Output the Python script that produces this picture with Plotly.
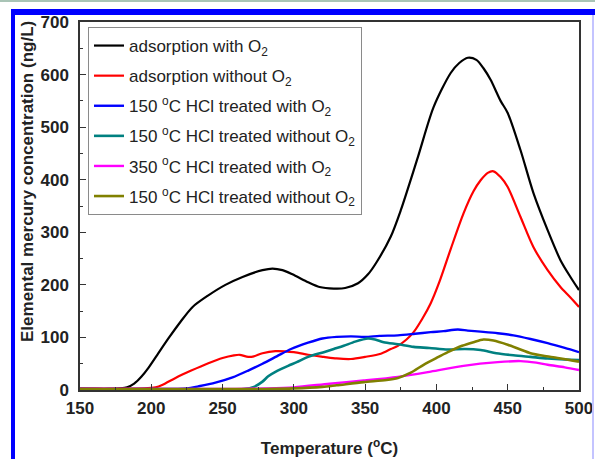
import plotly.graph_objects as go

# ---- data (Temperature in °C, concentration in ng/L) ----
black_T = [150, 160, 170, 178, 183, 188, 193, 198, 205, 212, 220, 229, 240, 252, 264, 278, 285, 292, 299, 310, 318, 328, 336, 345, 352, 358, 368, 375, 387, 398, 410, 416, 422, 428, 433, 438, 445, 450, 459, 468, 478, 487, 494, 500]
black_v = [2, 2, 2, 3, 5, 12, 25, 42, 70, 98, 128, 158, 180, 200, 215, 228, 231, 228, 220, 205, 196, 193, 194, 203, 220, 243, 292, 342, 443, 538, 603, 622, 632, 628, 612, 590, 550, 527, 456, 375, 304, 247, 215, 190]

red_T = [150, 195, 203, 208, 217, 228, 240, 250, 258, 262, 268, 272, 278, 287, 300, 310, 321, 330, 340, 350, 361, 368, 373, 379, 384, 390, 396, 402, 410, 419, 426, 431, 436, 440, 445, 450, 459, 468, 478, 487, 494, 500]
red_v = [3, 3, 5, 10, 23, 37, 51, 61, 66, 67, 63, 64, 70, 74, 72, 67, 63, 60, 59, 63, 69, 78, 84, 96, 110, 135, 165, 205, 268, 336, 378, 399, 413, 416, 405, 386, 329, 272, 228, 196, 176, 158]

blue_T = [150, 200, 225, 233, 245, 257, 268, 278, 288, 298, 310, 320, 330, 340, 350, 360, 373, 385, 396, 405, 415, 422, 431, 443, 454, 466, 478, 490, 500]
blue_v = [2, 2, 3, 7, 14, 24, 37, 50, 64, 78, 90, 98, 101, 102, 101, 103, 104, 107, 110, 112, 115, 113, 111, 108, 104, 97, 89, 80, 72]

teal_T = [150, 265, 272, 278, 282, 288, 296, 302, 310, 321, 328, 335, 343, 352, 357, 363, 373, 384, 395, 408, 420, 431, 442, 454, 466, 478, 490, 500]
teal_v = [2, 2, 6, 16, 26, 36, 46, 53, 63, 72, 78, 84, 92, 98, 96, 91, 87, 82, 80, 77, 78, 76, 70, 66, 63, 60, 58, 57]

mag_T = [150, 250, 280, 300, 325, 349, 373, 396, 419, 443, 459, 470, 478, 490, 500]
mag_v = [2, 2, 3, 5, 12, 18, 25, 35, 46, 53, 55, 52, 48, 43, 38]

olive_T = [150, 280, 300, 320, 330, 349, 365, 373, 382, 391, 400, 408, 418, 426, 433, 440, 450, 458, 466, 475, 485, 500]
olive_v = [2, 2, 3, 6, 9, 15, 19, 23, 33, 48, 61, 72, 84, 91, 96, 94, 86, 78, 70, 65, 61, 54]

series_names = [
    "adsorption with O<sub>2</sub>",
    "adsorption without O<sub>2</sub>",
    "150 <sup>o</sup>C HCl treated with O<sub>2</sub>",
    "150 <sup>o</sup>C HCl treated without O<sub>2</sub>",
    "350 <sup>o</sup>C HCl treated with O<sub>2</sub>",
    "150 <sup>o</sup>C HCl treated without O<sub>2</sub>",
]
series_colors = ["#000000", "#ff0000", "#0000ff", "#008080", "#ff00ff", "#808000"]
series_widths = [2.2, 2.2, 2.4, 2.6, 2.4, 2.6]
series_T = [black_T, red_T, blue_T, teal_T, mag_T, olive_T]
series_v = [black_v, red_v, blue_v, teal_v, mag_v, olive_v]

x_ticks = [150, 200, 250, 300, 350, 400, 450, 500]
y_ticks = [0, 100, 200, 300, 400, 500, 600, 700]

FONT = "Liberation Sans, Arial, sans-serif"

fig = go.Figure()
for i, (name, col, w, T, v) in enumerate(zip(series_names, series_colors, series_widths, series_T, series_v)):
    fig.add_trace(go.Scatter(
        x=T, y=v, mode="lines", name=name, legendgroup=f"g{i}",
        line=dict(color=col, width=w, shape="spline", smoothing=0.8),
    ))

# plot area in pixels: x 80..579, y 22..390
L, R, T_, B = 80, 16, 22, 69
W, H = 595, 459
pw, ph = W - L - R, H - T_ - B

def px(xp):
    return (xp - L) / pw

def py(yp):
    return (H - B - yp) / ph

shapes = [
    # outer page frame pieces
    dict(type="rect", xref="paper", yref="paper", x0=px(0), x1=px(W), y0=py(2), y1=py(0),
         fillcolor="#a9c4b6", line_width=0, layer="above"),
    dict(type="rect", xref="paper", yref="paper", x0=px(11), x1=px(W), y0=py(15), y1=py(9),
         fillcolor="#0000ff", line_width=0, layer="above"),
    dict(type="rect", xref="paper", yref="paper", x0=px(11), x1=px(15), y0=py(H + 10), y1=py(9),
         fillcolor="#0000ff", line_width=0, layer="above"),
    dict(type="rect", xref="paper", yref="paper", x0=px(592), x1=px(594), y0=py(H + 10), y1=py(15),
         fillcolor="#c4c4ff", line_width=0, layer="above"),
]

axis_common = dict(
    showline=True, linecolor="#333333", linewidth=1.5, mirror=True,
    ticks="inside", ticklen=6, tickwidth=1.3, tickcolor="#333333",
    showgrid=False, zeroline=False, automargin=False,
    tickfont=dict(family=FONT, size=17, color="#222222", weight="bold"),
)

fig.update_layout(
    width=W, height=H,
    margin=dict(l=L, r=R, t=T_, b=B, autoexpand=False),
    paper_bgcolor="white", plot_bgcolor="white",
    showlegend=True,
    legend=dict(
        x=px(88), y=py(27), xanchor="left", yanchor="top",
        bgcolor="white", bordercolor="#8a8a8a", borderwidth=1,
        font=dict(family=FONT, size=17, color="#222222"),
        tracegroupgap=5, traceorder="grouped",
    ),
    xaxis=dict(range=[150, 500], tickvals=x_ticks,
               minor=dict(dtick=25, ticks="inside", ticklen=3.5, tickcolor="#333333"),
               title=dict(text="Temperature (<sup>o</sup>C)", standoff=25,
                          font=dict(family=FONT, size=17, color="#222222", weight="bold")),
               ticklabelstandoff=2,
               **axis_common),
    yaxis=dict(range=[0, 700], tickvals=y_ticks,
               minor=dict(dtick=50, ticks="inside", ticklen=3.5, tickcolor="#333333"),
               ticklabelstandoff=6,
               **axis_common),
    shapes=shapes,
    annotations=[dict(
        text="Elemental mercury concentration (ng/L)", textangle=-90,
        xref="paper", yref="paper", x=px(27), y=py(182), xanchor="center", yanchor="middle",
        showarrow=False, font=dict(family=FONT, size=17, color="#222222", weight="bold"),
    )],
)

fig.write_html("out.html")
